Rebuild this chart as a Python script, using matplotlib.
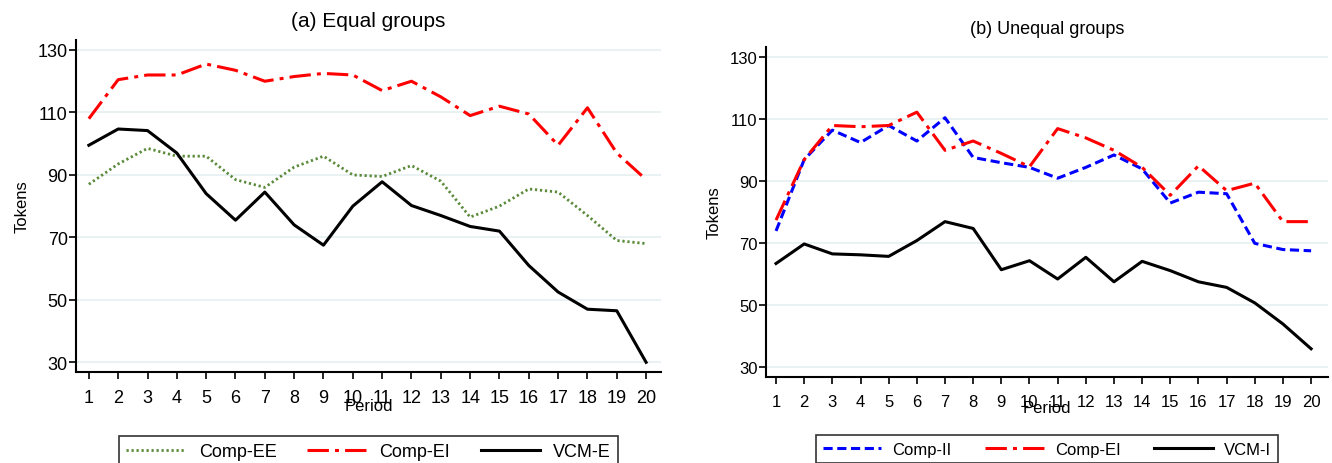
import numpy as np
import matplotlib
matplotlib.use("Agg")
import matplotlib.pyplot as plt

plt.rcParams["font.family"] = ["Liberation Sans", "DejaVu Sans"]

periods = list(range(1, 21))

# (a) equal groups
comp_ee = [87, 93.5, 98.5, 96, 96, 88.5, 86, 92.5, 96, 90, 89.5, 93, 88, 76.5, 80, 85.5, 84.5, 77, 69, 68]
comp_ei_a = [108, 120.5, 122, 122, 125.5, 123.5, 120, 121.5, 122.5, 122, 117, 120, 115, 109, 112, 109.5, 99.5, 111.5, 97, 88.5]
vcm_e = [99.5, 104.7, 104.2, 97, 84, 75.5, 84.5, 74, 67.5, 80, 87.8, 80.2, 77, 73.5, 72, 61, 52.5, 47, 46.5, 30]

# (b) unequal groups
comp_ii = [74, 97, 106.5, 102.5, 108, 103, 110.5, 97.7, 96, 94.5, 91, 94.5, 98.5, 94, 83, 86.5, 86, 70, 68, 67.6]
comp_ei_b = [77.5, 97, 108, 107.6, 108, 112.3, 100, 103, 99, 94.7, 107, 104, 100, 94.5, 85.5, 95, 87, 89.4, 77, 77]
vcm_i = [63.5, 69.8, 66.6, 66.3, 65.8, 70.9, 77, 74.8, 61.5, 64.4, 58.5, 65.5, 57.6, 64.2, 61.2, 57.6, 55.8, 50.8, 44, 36]

yticks = [30, 50, 70, 90, 110, 130]

GREEN = "#5a8a3a"
RED = "#ff0000"
BLUE = "#0000ff"
GRID = "#e6eff1"

fig = plt.figure(figsize=(13.32, 4.64), dpi=100)
axa = fig.add_axes([0.0571, 0.1955, 0.4392, 0.7168])
axb = fig.add_axes([0.5751, 0.1853, 0.4219, 0.7112])

lw = 2.2
dashdot = (0, (7, 2, 1.3, 2))

axa.plot(periods, comp_ee, color=GREEN, lw=2.0, ls=(0, (0.8, 1.0)), label="Comp-EE")
axa.plot(periods, comp_ei_a, color=RED, lw=lw, ls=dashdot, label="Comp-EI")
axa.plot(periods, vcm_e, color="black", lw=lw, label="VCM-E")

axb.plot(periods, comp_ii, color=BLUE, lw=lw, ls=(0, (3, 1.5)), label="Comp-II")
axb.plot(periods, comp_ei_b, color=RED, lw=lw, ls=dashdot, label="Comp-EI")
axb.plot(periods, vcm_i, color="black", lw=lw, label="VCM-I")

setups = [
    (axa, "(a) Equal groups", 15, 13, (0.564, 20.51), (26.8, 133.3)),
    (axb, "(b) Unequal groups", 13, 12, (0.645, 20.6), (26.9, 133.3)),
]
for ax, title, tsz, ksz, xl, yl in setups:
    ax.set_xlim(*xl)
    ax.set_ylim(*yl)
    ax.set_xticks(periods)
    ax.set_yticks(yticks)
    ax.tick_params(axis="both", labelsize=ksz, length=5, width=1.2, direction="out")
    ax.tick_params(axis="x", pad=7)
    ax.tick_params(axis="y", pad=1)
    for s in ("top", "right"):
        ax.spines[s].set_visible(False)
    for s in ("left", "bottom"):
        ax.spines[s].set_linewidth(1.5)
    ax.grid(axis="y", color=GRID, lw=1.2)
    ax.set_axisbelow(True)
    ax.set_title(title, fontsize=tsz, pad=10)
    ax.set_xlabel("Period", fontsize=12, labelpad=-6)
    ax.set_ylabel("Tokens", fontsize=12, labelpad=6)

leg_a = axa.legend(loc="upper center", bbox_to_anchor=(0.5, -0.165), ncol=3, fontsize=13,
                   frameon=True, fancybox=False, edgecolor="black", handlelength=3.3,
                   handletextpad=0.7, columnspacing=1.7, borderpad=0.4)
leg_a.get_frame().set_linewidth(1.2)
leg_b = axb.legend(loc="upper center", bbox_to_anchor=(0.5, -0.15), ncol=3, fontsize=12,
                   frameon=True, fancybox=False, edgecolor="black", handlelength=3.5,
                   handletextpad=0.7, columnspacing=2.0, borderpad=0.4)
leg_b.get_frame().set_linewidth(1.2)

fig.savefig("out.png", dpi=100)
